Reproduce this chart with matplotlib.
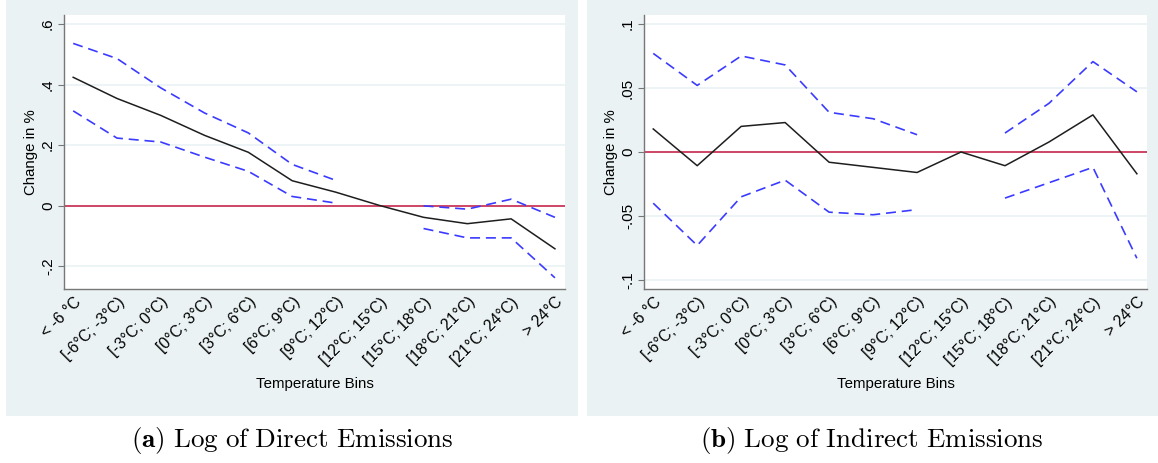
import numpy as np
import matplotlib
matplotlib.use("Agg")
from matplotlib import pyplot as plt
from matplotlib.patches import Rectangle

plt.rcParams['font.family'] = ['Liberation Sans', 'DejaVu Sans']
plt.rcParams['mathtext.fontset'] = 'cm'

bins = ['< -6 °C', '[-6°C; -3°C)', '[-3°C; 0°C)', '[0°C; 3°C)', '[3°C; 6°C)',
        '[6°C; 9°C)', '[9°C; 12°C)', '[12°C; 15°C)', '[15°C; 18°C)',
        '[18°C; 21°C)', '[21°C; 24°C)', '> 24°C']

# Panel (a): log of direct emissions (reference bin 12-15 has no CI)
direct_est = [0.424, 0.354, 0.298, 0.232, 0.176, 0.082, 0.044, 0.0,
              -0.039, -0.060, -0.044, -0.143]
direct_hi = [0.536, 0.486, 0.389, 0.306, 0.240, 0.136, 0.083, np.nan,
             -0.001, -0.012, 0.021, -0.039]
direct_lo = [0.313, 0.223, 0.210, 0.160, 0.113, 0.030, 0.008, np.nan,
             -0.076, -0.107, -0.107, -0.239]

# Panel (b): log of indirect emissions
indirect_est = [0.018, -0.0107, 0.020, 0.023, -0.008, -0.012, -0.016, 0.0,
                -0.0107, 0.0078, 0.029, -0.017]
indirect_hi = [0.077, 0.052, 0.075, 0.068, 0.031, 0.026, 0.0135, np.nan,
               0.0148, 0.038, 0.0706, 0.047]
indirect_lo = [-0.040, -0.073, -0.035, -0.022, -0.047, -0.049, -0.045, np.nan,
               -0.036, -0.024, -0.012, -0.083]

W, H = 1158, 463
fig = plt.figure(figsize=(W / 100, H / 100), dpi=100)
fig.patch.set_facecolor('white')

bg = '#eaf2f3'
# panel backgrounds (Stata graph region)
for x0, x1 in [(6, 578), (587, 1158)]:
    fig.patches.append(Rectangle((x0 / W, (H - 416) / H), (x1 - x0) / W, 416 / H,
                                 transform=fig.transFigure, facecolor=bg,
                                 edgecolor='none', zorder=-5))


def panel(left, right, est, hi, lo, yticks, ylabels, ylim):
    ax = fig.add_axes([left / W, (H - 289) / H, (right - left) / W, (289 - 15) / H])
    ax.set_zorder(2)
    ax.set_facecolor('white')
    x = np.arange(len(bins))
    for t in yticks:
        ax.axhline(t, color='#eaf2f3', lw=1.2, zorder=0)
    ax.axhline(0, color='#c9284d', lw=1.2, zorder=1)
    ax.plot(x, hi, color='#3b3bff', lw=1.2, dashes=(6, 3.5), zorder=2)
    ax.plot(x, lo, color='#3b3bff', lw=1.2, dashes=(6, 3.5), zorder=2)
    ax.plot(x, est, color='#1e1e1e', lw=1.1, zorder=3)
    ax.set_xlim(-0.21, 11.23)
    ax.set_ylim(*ylim)
    ax.set_xticks(x)
    ax.set_xticklabels(bins, rotation=45, ha='right', rotation_mode='anchor',
                       fontsize=11.3)
    ax.set_yticks(yticks)
    ax.set_yticklabels(ylabels, rotation=90, va='center', fontsize=11)
    ax.set_ylabel('Change in %', fontsize=10.8, va='center')
    ax.yaxis.set_label_coords(-0.066, 0.5)
    ax.set_xlabel('Temperature Bins', fontsize=10.8, va='center')
    ax.xaxis.set_label_coords(0.5, -0.347)
    for s in ['top', 'right']:
        ax.spines[s].set_visible(False)
    for s in ['left', 'bottom']:
        ax.spines[s].set_color('#777777')
        ax.spines[s].set_linewidth(1.0)
    ax.tick_params(axis='both', color='#777777', length=4.5, width=0.8, pad=2)
    ax.tick_params(axis='x', length=0, pad=4)
    return ax


panel(64, 565, direct_est, direct_hi, direct_lo,
      [-0.2, 0, 0.2, 0.4, 0.6], ['-.2', '0', '.2', '.4', '.6'], (-0.276, 0.63))
panel(644, 1147, indirect_est, indirect_hi, indirect_lo,
      [-0.1, -0.05, 0, 0.05, 0.1], ['-.1', '-.05', '0', '.05', '.1'],
      (-0.107, 0.107))

fig.text(292 / W, 1 - 441 / H, r'$\mathbf{(a)}\ \mathrm{Log\ of\ Direct\ Emissions}$',
         ha='center', va='center', fontsize=19.5)
fig.text(872 / W, 1 - 441 / H, r'$\mathbf{(b)}\ \mathrm{Log\ of\ Indirect\ Emissions}$',
         ha='center', va='center', fontsize=19.5)

fig.savefig('out.png', dpi=100)
